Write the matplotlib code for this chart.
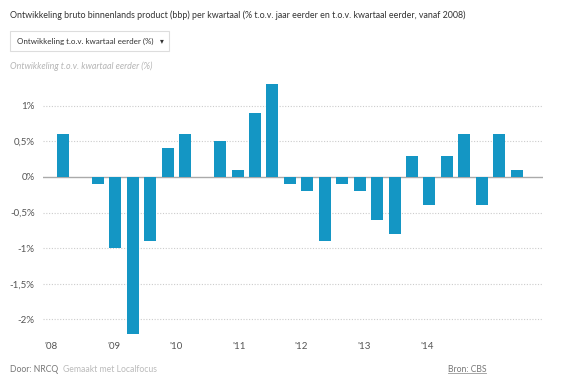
import matplotlib
matplotlib.use("Agg")
import matplotlib.pyplot as plt
from matplotlib.patches import Rectangle
import numpy as np

plt.rcParams['font.family'] = ['Lato', 'DejaVu Sans']

# kwartaalgroei bbp t.o.v. vorig kwartaal (%), 2008K1 .. 2014K3
groei = [0.6, 0.0, -0.1, -1.0, -2.2, -0.9, 0.4, 0.6, 0.0, 0.5, 0.1, 0.9, 1.3, -0.1,
         -0.2, -0.9, -0.1, -0.2, -0.6, -0.8, 0.3, -0.4, 0.3, 0.6, -0.4, 0.6, 0.1]
jaar_labels = ["'08", "'09", "'10", "'11", "'12", "'13", "'14"]
y_ticks = [-2, -1.5, -1, -0.5, 0, 0.5, 1]
y_labels = ["-2%", "-1,5%", "-1%", "-0,5%", "0%", "0,5%", "1%"]

blauw = '#1496c4'
grijs = '#555555'

fig = plt.figure(figsize=(5.84, 3.9), dpi=100)
ax = fig.add_axes([0.0736, 0.1446, 0.856, 0.639])

x = np.arange(len(groei))
ax.bar(x, groei, width=0.69, color=blauw, zorder=3)

ax.set_xlim(-1.15, 27.5)
ax.set_ylim(-2.2, 1.3)

for t in y_ticks:
    if t == 0:
        ax.axhline(0, color='#aaaaaa', lw=1, zorder=2)
    else:
        ax.axhline(t, color='#cccccc', lw=0.8, ls=(0, (1, 1.5)), zorder=1)
ax.set_yticks(y_ticks)
ax.set_yticklabels(y_labels)

# jaartallen staan in de bron net niet op kwartaalraster
jaar_pos = -0.69 + 3.59 * np.arange(len(jaar_labels))
ax.set_xticks(jaar_pos)
ax.set_xticklabels(jaar_labels)

ax.tick_params(length=0, labelsize=7, colors=grijs)
ax.tick_params(axis='x', pad=6)
ax.tick_params(axis='y', pad=6)
for s in ax.spines.values():
    s.set_visible(False)

fig.text(10 / 584, 1 - 15 / 390,
         "Ontwikkeling bruto binnenlands product (bbp) per kwartaal (% t.o.v. jaar eerder en t.o.v. kwartaal eerder, vanaf 2008)",
         fontsize=6.4, color='#333333', va='center')

fig.patches.append(Rectangle((10 / 584, 1 - 51 / 390), 159 / 584, 20 / 390,
                             transform=fig.transFigure, facecolor='white',
                             edgecolor='#dddddd', lw=0.8))
fig.text(17 / 584, 1 - 41 / 390, "Ontwikkeling t.o.v. kwartaal eerder (%)",
         fontsize=5.8, color='#333333', va='center')
fig.text(164 / 584, 1 - 41 / 390, "\u25be", fontsize=5.5, color='#333333',
         va='center', ha='right', family='DejaVu Sans')

fig.text(10 / 584, 1 - 66 / 390, "Ontwikkeling t.o.v. kwartaal eerder (%)",
         fontsize=6.4, color='#b5b5b5', style='italic', va='center')

fig.text(10 / 584, 1 - 370 / 390, "Door: NRCQ", fontsize=6.2, color='#777777', va='center')
fig.text(63 / 584, 1 - 370 / 390, "Gemaakt met Localfocus", fontsize=6.2, color='#bbbbbb', va='center')
bron = fig.text(486 / 584, 1 - 370 / 390, "Bron: CBS", fontsize=6.2, color='#777777',
                va='center', ha='right')
fig.canvas.draw()
bb = bron.get_window_extent().transformed(fig.transFigure.inverted())
fig.add_artist(plt.Line2D([bb.x0, bb.x1], [bb.y0 + 0.003, bb.y0 + 0.003],
                          transform=fig.transFigure, color='#999999', lw=0.6))

fig.savefig('out.png', dpi=100, facecolor='white')
